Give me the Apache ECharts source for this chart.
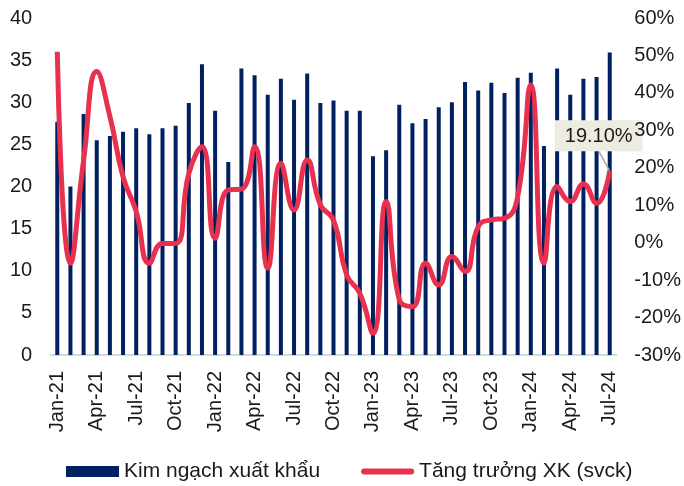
<!DOCTYPE html>
<html>
<head>
<meta charset="utf-8">
<script src="https://cdn.jsdelivr.net/npm/echarts@6/dist/echarts.min.js"></script>
<style>
html,body{margin:0;padding:0;background:#fff;}
#c{width:684px;height:486px;}
</style>
</head>
<body>
<div id="c"></div>
<script>
var categories = [
 'Jan-21','Feb-21','Mar-21','Apr-21','May-21','Jun-21','Jul-21','Aug-21','Sep-21','Oct-21','Nov-21','Dec-21',
 'Jan-22','Feb-22','Mar-22','Apr-22','May-22','Jun-22','Jul-22','Aug-22','Sep-22','Oct-22','Nov-22','Dec-22',
 'Jan-23','Feb-23','Mar-23','Apr-23','May-23','Jun-23','Jul-23','Aug-23','Sep-23','Oct-23','Nov-23','Dec-23',
 'Jan-24','Feb-24','Mar-24','Apr-24','May-24','Jun-24','Jul-24'
];
var exportValue = [
 27.7,20.0,28.6,25.5,26.0,26.5,26.9,26.2,26.9,27.2,29.9,34.5,
 29.0,22.9,34.0,33.2,30.9,32.8,30.3,33.4,29.9,30.2,29.0,29.0,
 23.6,24.3,29.7,27.5,28.0,29.4,30.0,32.4,31.4,32.3,31.1,32.9,
 33.5,24.8,34.0,30.9,32.8,33.0,35.9
];
var growthYoY = [
 51.0,-5.5,22.0,45.7,33.7,17.6,8.3,-5.5,-0.2,-0.2,18.5,25.6,
 1.2,14.1,14.3,25.6,-6.8,21.2,8.7,22.1,10.1,6.0,-8.6,-13.5,
 -24.2,11.0,-15.3,-17.1,-5.5,-11.3,-3.7,-7.7,4.3,6.1,6.5,12.3,
 42.1,-5.5,15.0,11.0,15.7,10.5,19.1
];
var leftTicks = {min:0, max:40, interval:5};
var rightTicks = {min:-30, max:60, interval:10};
var seriesNames = ['Kim ngạch xuất khẩu', 'Tăng trưởng XK (svck)'];

var FONT = "'Liberation Sans', Arial, sans-serif";
var chart = echarts.init(document.getElementById('c'), null, {renderer:'canvas'});

var lastIdx = growthYoY.length - 1;
var lineData = growthYoY.map(function(v, i){
  if (i === lastIdx) {
    return {
      value: v,
      label: {
        show: true,
        position: 'top',
        formatter: function(p){ return Number(p.value).toFixed(2) + '%'; },
        backgroundColor: '#EEECE1',
        color: '#1a1a1a',
        fontFamily: FONT,
        fontSize: 20,
        padding: [6, 10, 5, 10]
      },
      labelLine: { show: true, lineStyle: { color: '#A6A6A6', width: 1.5 } }
    };
  }
  return v;
});

chart.setOption({
  animation: false,
  textStyle: { fontFamily: FONT },
  grid: { left: 50.7, right: 67.3, top: 18, bottom: 131 },
  legend: {
    left: 66, top: 461, padding: 0,
    itemWidth: 53, itemHeight: 11, itemGap: 41,
    textStyle: { fontFamily: FONT, fontSize: 21, color: '#1a1a1a' },
    data: [
      { name: seriesNames[0], icon: 'rect' },
      { name: seriesNames[1], icon: 'path://M3,0 L52,0 A3,3 0 0 1 52,6 L3,6 A3,3 0 0 1 3,0 Z' }
    ]
  },
  xAxis: {
    type: 'category',
    data: categories,
    axisLine: { show: true, lineStyle: { color: '#D9D9D9', width: 2 } },
    axisTick: { show: false },
    axisLabel: { interval: 2, rotate: 90, margin: 16, fontSize: 20, color: '#1a1a1a', fontFamily: FONT }
  },
  yAxis: [
    {
      type: 'value', min: leftTicks.min, max: leftTicks.max, interval: leftTicks.interval,
      axisLine: { show: false }, axisTick: { show: false }, splitLine: { show: false },
      axisLabel: { margin: 18.5, fontSize: 20, color: '#1a1a1a', fontFamily: FONT }
    },
    {
      type: 'value', min: rightTicks.min, max: rightTicks.max, interval: rightTicks.interval,
      z: 20,
      axisLine: { show: false }, axisTick: { show: false }, splitLine: { show: false },
      axisLabel: { margin: 18, fontSize: 20, color: '#1a1a1a', fontFamily: FONT, formatter: '{value}%' }
    }
  ],
  series: [
    {
      name: seriesNames[0],
      type: 'bar',
      data: exportValue,
      barWidth: 4,
      itemStyle: { color: '#002060' },
      z: 2
    },
    {
      name: seriesNames[1],
      type: 'line',
      yAxisIndex: 1,
      data: lineData,
      smooth: 0.5,
      symbol: 'circle',
      symbolSize: 0.01,
      showSymbol: true,
      lineStyle: { color: '#E8304F', width: 5 },
      itemStyle: { color: '#E8304F' },
      labelLayout: { dx: -11, dy: -15 },
      z: 3
    }
  ]
});
</script>
</body>
</html>
